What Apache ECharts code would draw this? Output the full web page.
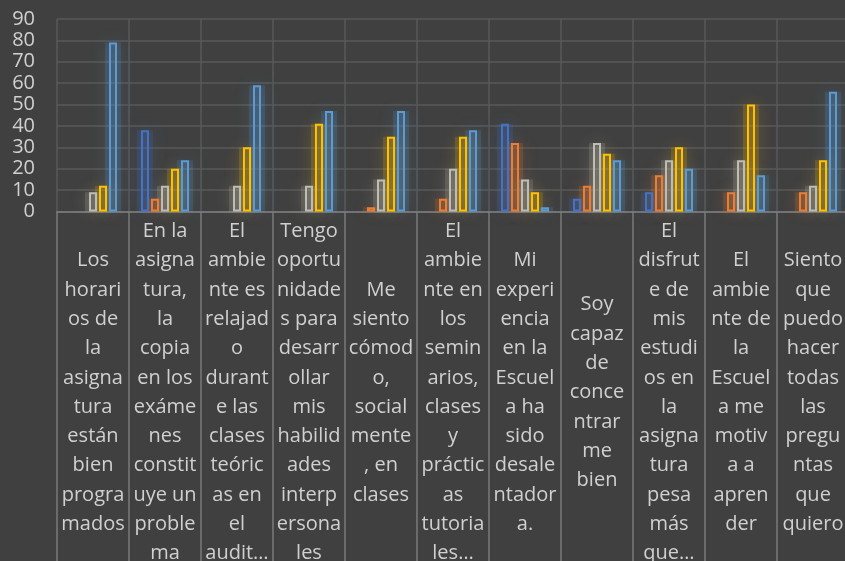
<!DOCTYPE html>
<html lang="es">
<head>
    <meta charset="UTF-8">
    <title>Encuesta</title>
    <script src="https://cdn.jsdelivr.net/npm/echarts@6/dist/echarts.min.js"></script>
    <style>
        html, body { margin: 0; padding: 0; background: #404040; }
        #chart { width: 845px; height: 561px; }
    </style>
</head>
<body>
    <div id="chart"></div>
    <script>
        // category labels, split the way the original wraps them
        var categories = [
            'Los\nhorari\nos de\nla\nasigna\ntura\nestán\nbien\nprogra\nmados',
            'En la\nasigna\ntura,\nla\ncopia\nen los\nexáme\nnes\nconstit\nuye un\nproble\nma',
            'El\nambie\nnte es\nrelajad\no\ndurant\ne las\nclases\nteóric\nas en\nel\naudit…',
            'Tengo\noportu\nnidade\ns para\ndesarr\nollar\nmis\nhabilid\nades\ninterp\nersona\nles',
            'Me\nsiento\ncómod\no,\nsocial\nmente\n, en\nclases',
            'El\nambie\nnte en\nlos\nsemin\narios,\nclases\ny\npráctic\nas\ntutoria\nles…',
            'Mi\nexperi\nencia\nen la\nEscuel\na ha\nsido\ndesale\nntador\na.',
            'Soy\ncapaz\nde\nconce\nntrar\nme\nbien',
            'El\ndisfrut\ne de\nmis\nestudi\nos en\nla\nasigna\ntura\npesa\nmás\nque…',
            'El\nambie\nnte de\nla\nEscuel\na me\nmotiv\na a\napren\nder',
            'Siento\nque\npuedo\nhacer\ntodas\nlas\npregu\nntas\nque\nquiero'
        ];

        // no bar visible -> null
        var serie1 = [null, 38, null, null, null, null, 41, 6, 9, null, null];
        var serie2 = [null, 6, null, null, 2, 6, 32, 12, 17, 9, 9];
        var serie3 = [9, 12, 12, 12, 15, 20, 15, 32, 24, 24, 12];
        var serie4 = [12, 20, 30, 41, 35, 35, 9, 27, 30, 50, 24];
        var serie5 = [79, 24, 59, 47, 47, 38, 2, 24, 20, 17, 56];

        var names = ['Serie 1', 'Serie 2', 'Serie 3', 'Serie 4', 'Serie 5'];
        var colors = ['#4472C4', '#ED7D31', '#BDBDB5', '#FFC000', '#5B9BD5'];

        function rgba(hex, a) {
            var n = parseInt(hex.slice(1), 16);
            return 'rgba(' + (n >> 16) + ',' + ((n >> 8) & 255) + ',' + (n & 255) + ',' + a + ')';
        }

        // outlined bar
        function barSeries(name, data, color) {
            return {
                name: name,
                type: 'bar',
                data: data,
                z: 3,
                barWidth: 8,
                barGap: '25%',
                itemStyle: {
                    color: rgba(color, 0.12),
                    borderColor: color,
                    borderWidth: 2
                }
            };
        }

        // soft glow behind each bar (same data, hidden twin axis)
        function glowSeries(name, data, color) {
            return {
                name: name,
                type: 'bar',
                data: data,
                xAxisIndex: 1,
                z: 1,
                silent: true,
                barWidth: 16,
                barGap: '-37.5%',
                itemStyle: {
                    color: rgba(color, 0.17),
                    shadowBlur: 16,
                    shadowColor: color
                }
            };
        }

        var values = [serie1, serie2, serie3, serie4, serie5];
        var series = [];
        values.forEach(function (v, i) { series.push(glowSeries(names[i], v, colors[i])); });
        values.forEach(function (v, i) { series.push(barSeries(names[i], v, colors[i])); });

        var myChart = echarts.init(document.getElementById('chart'));
        var option = {
            backgroundColor: '#404040',
            animation: false,
            textStyle: { fontFamily: 'Open Sans' },
            grid: { left: 57, top: 19, width: 792, height: 192.5, outerBoundsMode: 'none' },
            xAxis: [{
                type: 'category',
                data: categories,
                axisLine: { lineStyle: { color: '#808080', width: 1.5 } },
                axisTick: { show: true, interval: 0, length: 360, lineStyle: { color: '#7a7a7a', width: 1.5 } },
                splitLine: { show: true, interval: 0, lineStyle: { color: '#595959', width: 1.5 } },
                axisLabel: {
                    interval: 0,
                    margin: 181,
                    verticalAlign: 'middle',
                    align: 'center',
                    color: '#D0D0D0',
                    fontSize: 20,
                    lineHeight: 29.3,
                    fontFamily: 'Open Sans'
                }
            }, {
                type: 'category',
                data: categories,
                show: false
            }],
            yAxis: {
                type: 'value',
                min: 0,
                max: 90,
                interval: 10,
                axisLine: { show: false },
                axisTick: { show: false },
                splitLine: { lineStyle: { color: '#595959', width: 1.5 } },
                axisLabel: { color: '#D0D0D0', fontSize: 20, margin: 22, fontFamily: 'Open Sans' }
            },
            series: series
        };
        myChart.setOption(option);
    </script>
</body>
</html>
